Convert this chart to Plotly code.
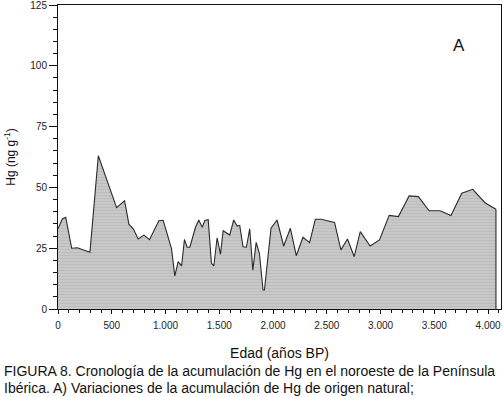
import plotly.graph_objects as go

edad = [0, 40, 72, 127, 180, 297, 375, 489, 545, 619, 660, 700, 746, 799, 851, 901,
        938, 978, 1056, 1086, 1118, 1149, 1176, 1201, 1226, 1279, 1309, 1341, 1366,
        1397, 1427, 1449, 1480, 1511, 1536, 1597, 1634, 1666, 1690, 1721, 1752, 1783,
        1812, 1843, 1873, 1907, 1920, 1981, 2037, 2099, 2161, 2216, 2278, 2340, 2393,
        2448, 2572, 2631, 2692, 2755, 2811, 2903, 2990, 3080, 3166, 3222, 3265, 3352,
        3451, 3553, 3655, 3755, 3857, 3971, 4073]
hg = [33, 37, 37.7, 25, 25.2, 23.3, 63, 49, 41.7, 44.5, 34.8, 33, 28.8, 30.4, 28.5, 33,
      36.3, 36.5, 24.7, 13.6, 19.5, 17.7, 28.6, 25.4, 25.4, 33.6, 36.6, 33.6, 36.4,
      36.7, 18.8, 17.7, 29.3, 22.5, 32.2, 30.4, 36.6, 34.1, 34.4, 25.6, 25.4, 33,
      16, 27.4, 22.9, 7.8, 7.8, 33.2, 36.6, 25.9, 33.2, 21.9, 29.5, 27.3, 36.9,
      36.9, 35.6, 24.3, 28.8, 21.5, 31.8, 25.9, 28.4, 38.5, 38, 42.8, 46.5, 46.2,
      40.4, 40.4, 38.4, 47.6, 49.2, 43.7, 41]

x_tickvals = [0, 500, 1000, 1500, 2000, 2500, 3000, 3500, 4000]
x_ticktext = ["0", "500", "1.000", "1.500", "2.000", "2.500", "3.000", "3.500", "4.000"]
y_tickvals = [0, 25, 50, 75, 100, 125]

caption_lines = [
    "FIGURA 8. Cronología de la acumulación de Hg en el noroeste de la Península",
    "Ibérica. A) Variaciones de la acumulación de Hg de origen natural;",
]

fig = go.Figure()
fig.add_trace(go.Scatter(
    x=edad, y=hg, mode="lines", fill="tozeroy",
    line=dict(color="#2a2a2a", width=1.1),
    fillcolor="#c6c6c6",
    fillpattern=dict(shape="-", fgcolor="#b0b0b0", bgcolor="#c8c8c8", size=3, solidity=0.3),
    showlegend=False, hoverinfo="skip",
))
# closing vertical edge at the end of the series
fig.add_shape(type="line", x0=edad[-1], x1=edad[-1], y0=0, y1=hg[-1],
              line=dict(color="#2a2a2a", width=1.1))

fig.add_annotation(text="A", x=0.905, y=0.868, xref="paper", yref="paper",
                   xanchor="center", yanchor="middle",
                   showarrow=False, font=dict(size=17, color="#111"))
for i, line in enumerate(caption_lines):
    fig.add_annotation(text=line, x=-0.126, y=-0.204 - i * 0.056, xref="paper", yref="paper",
                       xanchor="left", yanchor="middle", align="left", showarrow=False,
                       font=dict(size=14, color="#111"))

axis_font = dict(family="Liberation Sans, Arial, sans-serif", size=10, color="#222")
fig.update_layout(
    width=503, height=397,
    margin=dict(l=58, r=2, t=5, b=88),
    paper_bgcolor="white", plot_bgcolor="white",
    font=dict(family="Liberation Sans, Arial, sans-serif", color="#111"),
    xaxis=dict(range=[0, 4120], tickvals=x_tickvals, ticktext=x_ticktext,
               automargin=False, ticklabeloverflow="allow", ticklabelstandoff=3,
               showgrid=False, zeroline=False, showline=True, linecolor="#111",
               linewidth=1, mirror=True, ticks="outside", ticklen=4, tickcolor="#111",
               tickfont=axis_font,
               minor=dict(dtick=100, ticklen=3, ticks="outside", tickcolor="#111", showgrid=False),
               title=dict(text="Edad (años BP)", font=dict(size=14, color="#111"), standoff=18)),
    yaxis=dict(range=[0, 125], tickvals=y_tickvals,
               automargin=False, ticklabeloverflow="allow",
               showgrid=False, zeroline=False, showline=True, linecolor="#111",
               linewidth=1, mirror=True, ticks="outside", ticklen=8, tickcolor="#111",
               tickfont=axis_font,
               minor=dict(dtick=5, ticklen=4, ticks="outside", tickcolor="#111", showgrid=False),
               title=dict(text="Hg (ng g<sup>-1</sup>)", font=dict(size=12, color="#111"), standoff=12)),
)

fig.write_html("out.html", config={"displayModeBar": False},
               post_script="document.body.style.margin='0';document.body.style.overflow='hidden';")
